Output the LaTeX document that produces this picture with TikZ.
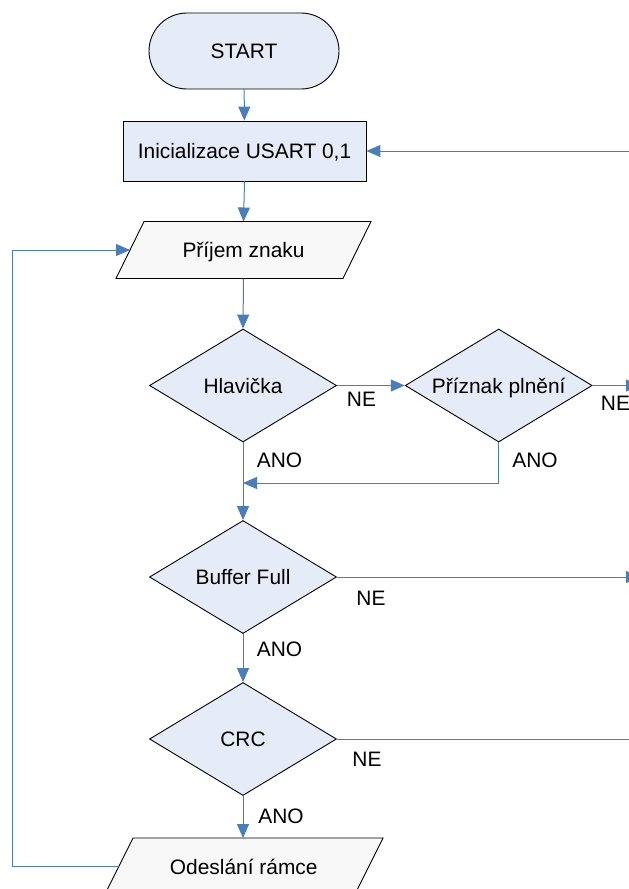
\documentclass[tikz,border=0pt]{standalone}
\usepackage{fontspec}
\setmainfont{Liberation Sans}
\usetikzlibrary{shapes.geometric,arrows.meta}
\definecolor{lblue}{RGB}{74,126,187}
\definecolor{fillb}{RGB}{230,236,247}
\definecolor{fillg}{RGB}{248,248,248}
\begin{document}
\begin{tikzpicture}[x=1pt,y=-1pt,
 every node/.style={font=\fontsize{20.9}{25}\selectfont, text height=15pt, text depth=0pt, inner sep=0pt},
 box/.style={draw=black, fill=fillb, line width=0.9pt},
 term/.style={box, rectangle, rounded corners=38pt, minimum width=190pt, minimum height=76pt},
 proc/.style={box, rectangle, minimum width=243pt, minimum height=60pt},
 dec/.style={box, diamond, aspect=1.655, minimum width=187pt, minimum height=113pt},
 iobox/.style={draw=black, fill=fillg, line width=0.9pt},
 conn/.style={draw=lblue, line width=1pt},
 arr/.style={conn, -{Triangle[length=14pt,width=12pt]}}
]
\useasboundingbox (0,0) rectangle (629,889);
\clip (0,0) rectangle (629,889);
\fill[white] (0,0) rectangle (629,889);

% parallelograms (input / output)
\path[iobox] (144,221.5) -- (371,221.5) -- (343,278.5) -- (116,278.5) -- cycle;
\path[iobox] (133,838) -- (383,838) -- (354.5,895) -- (104.5,895) -- cycle;

\node[term] (start) at (244,51) {START};
\node[proc] (init) at (244.5,151) {Inicializace USART 0,1};
\node (prijem) at (243.5,250) {Příjem znaku};
\node[dec] (hlav) at (243,385.5) {Hlavička};
\node[dec] (priz) at (498.7,385.5) {Příznak plnění};
\node[dec] (buf) at (243,577) {Buffer Full};
\node[dec] (crc) at (243,739) {CRC};
\node (odes) at (243.75,866.5) {Odeslání rámce};

\coordinate (prijemN) at (243.5,221.5);
\coordinate (prijemS) at (243.5,278.5);
\coordinate (prijemW) at (130,250);
\coordinate (odesN) at (243,838);
\coordinate (odesW) at (118.75,866.5);

\coordinate (junc) at (243,483);
\coordinate (rin) at (645,151);
\coordinate (rp) at (640,385.5);
\coordinate (rb) at (640,577);
\coordinate (rc) at (660,739);
\coordinate (lb) at (12,866.5);
\coordinate (lt) at (12,250);

\draw[arr] (start) -- (init);
\draw[arr] (init.south) -- (prijemN);
\draw[arr] (prijemS) -- (hlav.north);
\draw[arr] (hlav.east) -- (priz.west);
\draw[arr] (priz.east) -- (rp);
\draw[arr] (priz.south) |- (junc);
\draw[arr] (hlav.south) -- (buf.north);
\draw[arr] (buf.east) -- (rb);
\draw[arr] (buf.south) -- (crc.north);
\draw[arr] (crc.east) -- (rc);
\draw[arr] (crc.south) -- (odesN);
\draw[arr] (rin) -- (init.east);
\draw[arr] (odesW) -- (lb) -- (lt) -- (prijemW);

\node (ne1) at (361.5,398.5) {NE};
\node (ne2) at (615.5,402.5) {NE};
\node (ano1) at (279.5,459.5) {ANO};
\node (ano2) at (535,459.5) {ANO};
\node (ne3) at (371,597.5) {NE};
\node (ano3) at (279.5,648.5) {ANO};
\node (ne4) at (367,759) {NE};
\node (ano4) at (281,816) {ANO};
\end{tikzpicture}
\end{document}
